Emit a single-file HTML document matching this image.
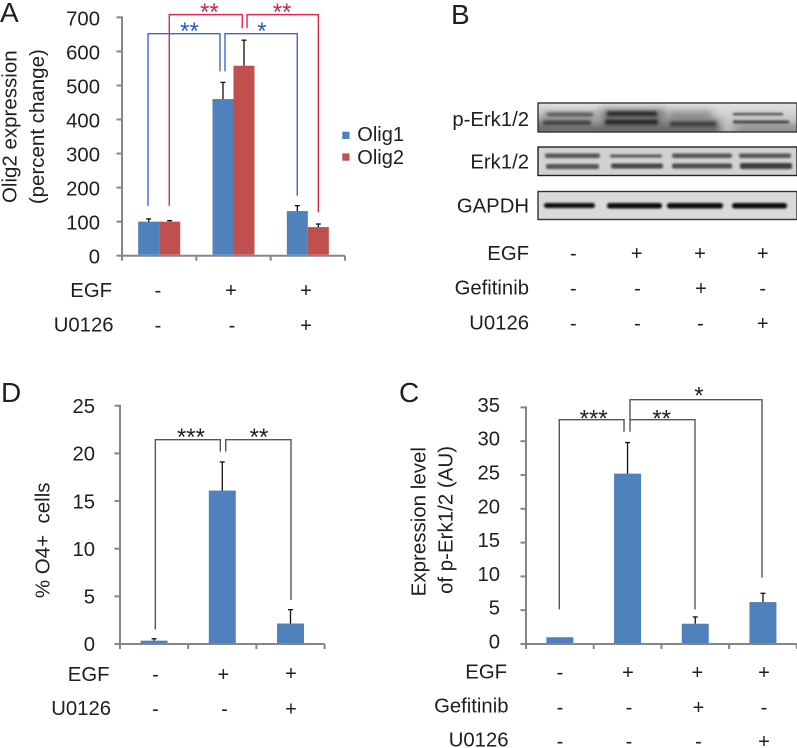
<!DOCTYPE html>
<html lang="en">
<head>
<meta charset="utf-8">
<title>EGF signalling figure</title>
<style>
html,body{margin:0;padding:0;background:#fff;}
svg{display:block;font-family:"Liberation Sans",Arial,sans-serif;fill:#1f1f1f;filter:blur(0.3px);}
.t{font-size:20px;}
.l{font-size:20.3px;}
.e{text-anchor:end;font-size:20.3px;}
.m{text-anchor:middle;font-size:20px;}
.p{font-size:28px;}
.r{text-anchor:middle;font-size:20.5px;white-space:pre;}
</style>
</head>
<body>
<svg id="fig" xmlns="http://www.w3.org/2000/svg" width="797" height="748" viewBox="0 0 797 748">
<defs>
<filter id="b1" x="-20%" y="-100%" width="140%" height="300%"><feGaussianBlur stdDeviation="1.1"/></filter>
<filter id="b2" x="-20%" y="-100%" width="140%" height="300%"><feGaussianBlur stdDeviation="1.5"/></filter>
<filter id="b3" x="-30%" y="-100%" width="160%" height="300%"><feGaussianBlur stdDeviation="4"/></filter>
<clipPath id="c1"><rect x="538" y="103" width="259" height="29"/></clipPath>
<clipPath id="c2"><rect x="538" y="147" width="259" height="28.5"/></clipPath>
<clipPath id="c3"><rect x="538" y="191.5" width="259" height="28"/></clipPath>
<linearGradient id="g1" x1="0" y1="0" x2="0" y2="1"><stop offset="0" stop-color="#e2e2e2"/><stop offset="1" stop-color="#b4b4b4"/></linearGradient>
</defs>

<text class="p" x="0" y="22">A</text>
<text class="p" x="451" y="24">B</text>
<text class="p" x="1" y="402">D</text>
<text class="p" x="399" y="402">C</text>

<text class="r" transform="translate(16.7 126.7) rotate(-90)">Olig2 expression</text>
<text class="r" transform="translate(44 126.7) rotate(-90)">(percent change)</text>
<text class="r" transform="translate(49.3 540.3) rotate(-90)" xml:space="preserve">% O4+  cells</text>
<text class="r" transform="translate(425.7 521.7) rotate(-90)">Expression level</text>
<text class="r" transform="translate(452.7 520) rotate(-90)">of p-Erk1/2 (AU)</text>

<g>
<rect x="342.3" y="131.7" width="7.2" height="7.3" fill="#4f81bd"/>
<text class="t" x="357.3" y="141">Olig1</text>
<rect x="342.3" y="153.4" width="7.2" height="7.3" fill="#c0504d"/>
<text class="t" x="357.3" y="164">Olig2</text>
</g>

<g>
<text class="e" x="112" y="297">EGF</text>
<text class="m" x="158" y="297">-</text>
<text class="m" x="231" y="297">+</text>
<text class="m" x="306" y="297">+</text>
<text class="e" x="113.5" y="331.5">U0126</text>
<text class="m" x="158" y="332">-</text>
<text class="m" x="232" y="332">-</text>
<text class="m" x="306" y="332">+</text>
</g>

<g>
<text class="e" x="529" y="126">p-Erk1/2</text>
<text class="e" x="529" y="168.3">Erk1/2</text>
<text class="e" x="529" y="212.7">GAPDH</text>
</g>

<g>
<g clip-path="url(#c1)">
<rect x="538" y="103" width="259" height="29" fill="url(#g1)"/>
<rect x="528" y="120" width="192" height="18" fill="#6a6a6a" filter="url(#b3)"/>
<rect x="600" y="109" width="66" height="14" fill="#7c7c7c" filter="url(#b3)"/>
<rect x="668" y="111" width="44" height="14" fill="#8c8c8c" filter="url(#b3)"/>
<rect x="540" y="112" width="60" height="12" fill="#a0a0a0" filter="url(#b3)"/>
<rect x="735" y="125" width="70" height="10" fill="#8a8a8a" filter="url(#b3)"/>
<g filter="url(#b2)" fill="#3a3a3a">
<rect x="547" y="113" width="46" height="3"/>
<rect x="543" y="120.5" width="48" height="4.5"/>
<rect x="607" y="111.5" width="50" height="4.5" fill="#202020"/>
<rect x="605" y="119.5" width="53" height="5" fill="#202020"/>
<rect x="670" y="121.5" width="46" height="5"/>
</g>
<g filter="url(#b1)" fill="#444">
<rect x="733" y="113" width="50" height="2.2"/>
<rect x="733" y="120.5" width="56" height="3"/>
</g>
</g>
<rect x="538" y="103" width="259" height="29" fill="none" stroke="#333" stroke-width="1.4"/>
</g>

<g>
<g clip-path="url(#c2)">
<rect x="538" y="147" width="259" height="28.5" fill="#d2d2d2"/>
<g filter="url(#b1)" fill="#545454">
<rect x="545" y="153.5" width="55" height="4.5" rx="2"/>
<rect x="546" y="164" width="53" height="5" rx="2"/>
<rect x="610" y="154.5" width="52" height="3" rx="1.5"/>
<rect x="611" y="163.5" width="52" height="5" rx="2" fill="#444"/>
<rect x="672" y="153.5" width="60" height="4.5" rx="2"/>
<rect x="672" y="163.5" width="60" height="5" rx="2" fill="#484848"/>
<rect x="739" y="153.5" width="52" height="4.5" rx="2"/>
<rect x="740" y="163" width="52" height="6" rx="2" fill="#3e3e3e"/>
</g>
</g>
<rect x="538" y="147" width="259" height="28.5" fill="none" stroke="#222" stroke-width="1.4"/>
</g>

<g>
<g clip-path="url(#c3)">
<rect x="538" y="191.5" width="259" height="28" fill="#dadada"/>
<g filter="url(#b1)" fill="#0e0e0e">
<rect x="544" y="203" width="51" height="5" rx="2.5"/>
<rect x="607" y="203" width="55" height="5.5" rx="2.5"/>
<rect x="667" y="203" width="56" height="5.5" rx="2.5"/>
<rect x="732" y="203" width="55" height="5.5" rx="2.5"/>
</g>
</g>
<rect x="538" y="191.5" width="259" height="28" fill="none" stroke="#333" stroke-width="1.4"/>
</g>

<g>
<text class="e" x="529" y="260">EGF</text>
<text class="m" x="573.3" y="260">-</text>
<text class="m" x="636.7" y="260">+</text>
<text class="m" x="700" y="260">+</text>
<text class="m" x="762.7" y="260">+</text>
<text class="e" x="529" y="294.3">Gefitinib</text>
<text class="m" x="573.3" y="295">-</text>
<text class="m" x="637.5" y="295">-</text>
<text class="m" x="701" y="295">+</text>
<text class="m" x="762.7" y="295">-</text>
<text class="e" x="529" y="329.3">U0126</text>
<text class="m" x="573.3" y="330">-</text>
<text class="m" x="637.5" y="330">-</text>
<text class="m" x="700.5" y="330">-</text>
<text class="m" x="762.7" y="330">+</text>
</g>

<g>
<text class="e" x="109.5" y="681">EGF</text>
<text class="m" x="155.5" y="681">-</text>
<text class="m" x="223.3" y="681">+</text>
<text class="m" x="291" y="680">+</text>
<text class="e" x="111" y="715">U0126</text>
<text class="m" x="155.5" y="715.5">-</text>
<text class="m" x="224.5" y="715.5">-</text>
<text class="m" x="291" y="715.5">+</text>
</g>

<g>
<text class="e" x="507" y="678.3">EGF</text>
<text class="m" x="560" y="679">-</text>
<text class="m" x="628" y="679">+</text>
<text class="m" x="697.3" y="679">+</text>
<text class="m" x="764" y="679">+</text>
<text class="e" x="508.5" y="712.3">Gefitinib</text>
<text class="m" x="560" y="714">-</text>
<text class="m" x="629" y="714">-</text>
<text class="m" x="698.5" y="714">+</text>
<text class="m" x="764" y="714">-</text>
<text class="e" x="508.5" y="746.7">U0126</text>
<text class="m" x="560" y="748">-</text>
<text class="m" x="629" y="748">-</text>
<text class="m" x="698.5" y="748">-</text>
<text class="m" x="764" y="748">+</text>
</g>
</svg>

<script>
// Panel A data
const panelACategories = ['EGF- U0126-', 'EGF+ U0126-', 'EGF+ U0126+'];
const panelAOlig1Values = [100, 460, 131];
const panelAOlig1Errors = [8, 49, 16];
const panelAOlig2Values = [100, 558, 84];
const panelAOlig2Errors = [3, 75, 9];
const panelATicks = ['0', '100', '200', '300', '400', '500', '600', '700'];
// Panel D data
const panelDCategories = ['EGF- U0126-', 'EGF+ U0126-', 'EGF+ U0126+'];
const panelDValues = [0.35, 16.1, 2.15];
const panelDErrors = [0.2, 3.0, 1.45];
const panelDTicks = ['0', '5', '10', '15', '20', '25'];
// Panel C data
const panelCCategories = ['Control', 'EGF', 'EGF+Gefitinib', 'EGF+U0126'];
const panelCValues = [1, 25.2, 3, 6.2];
const panelCErrors = [0, 4.6, 1, 1.3];
const panelCTicks = ['0', '5', '10', '15', '20', '25', '30', '35'];

const NS = 'http://www.w3.org/2000/svg';
const fig = document.getElementById('fig');

function shape(kind, attrs, name) {
  const el = document.createElementNS(NS, kind);
  for (const k in attrs) el.setAttribute(k, attrs[k]);
  
  
  fig.appendChild(el);
  return el;
}

function makeAxes(x0, y0, pxPerUnit, catWidth, cats) {
  return {
    x: u => x0 + u * catWidth,
    y: v => y0 - v * pxPerUnit,
    x0, y0, cats
  };
}

function drawAxes(ax, ticks, prefix, labelGap, labelDrop) {
  const yTop = ax.y(Number(ticks[ticks.length - 1]));
  const xEnd = ax.x(ax.cats.length);
  const axisStyle = {stroke: '#868686', 'stroke-width': 2, fill: 'none'};
  shape('line', Object.assign({x1: ax.x0, x2: ax.x0, y1: yTop - 1, y2: ax.y0 + 1}, axisStyle), prefix + '-y-axis');
  shape('line', Object.assign({x1: ax.x0, x2: xEnd, y1: ax.y0, y2: ax.y0}, axisStyle), prefix + '-x-axis');
  ticks.forEach(label => {
    const py = ax.y(Number(label));
    shape('line', Object.assign({x1: ax.x0 - 5.5, x2: ax.x0, y1: py, y2: py}, axisStyle), prefix + '-y-tick');
    const t = shape('text', {x: ax.x0 - labelGap, y: py + labelDrop, 'text-anchor': 'end', 'font-size': 20.3}, prefix + '-y-tick-label');
    t.textContent = label;
  });
  for (let i = 0; i <= ax.cats.length; i++) {
    shape('line', Object.assign({x1: ax.x(i), x2: ax.x(i), y1: ax.y0, y2: ax.y0 + 5}, axisStyle), prefix + '-x-tick');
  }
}

function drawBars(ax, values, errors, center, width, color, prefix) {
  values.forEach((v, i) => {
    const cx = center(i);
    shape('rect', {x: cx - width / 2, y: ax.y(v), width: width, height: ax.y0 - ax.y(v) - 1, fill: color}, prefix + '-bar-' + (i + 1));
    if (errors[i] > 0) {
      const top = ax.y(v + errors[i]);
      shape('line', {x1: cx, x2: cx, y1: ax.y(v), y2: top, stroke: '#111', 'stroke-width': 1.3}, prefix + '-error-bar-' + (i + 1));
      shape('line', {x1: cx - 2.5, x2: cx + 2.5, y1: top, y2: top, stroke: '#111', 'stroke-width': 1.3}, prefix + '-error-cap-' + (i + 1));
    }
  });
}

function bracket(ax, uL, uR, top, endL, endR, color, name) {
  const d = 'M' + ax.x(uL) + ' ' + ax.y(endL) + 'V' + ax.y(top) + 'H' + ax.x(uR) + 'V' + ax.y(endR);
  shape('path', {d: d, fill: 'none', stroke: color, 'stroke-width': 1.4}, name);
}

function stars(ax, u, v, label, color, name) {
  const t = shape('text', {x: ax.x(u), y: ax.y(v) + 12.5, 'text-anchor': 'middle', 'font-size': 24, fill: color}, name);
  t.textContent = label;
}

// Panel A
const axA = makeAxes(122, 255.7, 0.3405, 74.33, panelACategories);
drawAxes(axA, panelATicks, 'panel-a', 22, 8);
drawBars(axA, panelAOlig1Values, panelAOlig1Errors, i => axA.x(i + 0.5) - 10.5, 21, '#4f81bd', 'olig1');
drawBars(axA, panelAOlig2Values, panelAOlig2Errors, i => axA.x(i + 0.5) + 10.5, 21, '#c0504d', 'olig2');
const blueA = '#3e66cf', redA = '#e0294f';
bracket(axA, 0.35, 1.318, 652, 146, 541.5, blueA, 'olig1-bracket-control-egf');
bracket(axA, 1.386, 2.358, 652, 541.5, 176, blueA, 'olig1-bracket-egf-u0126');
bracket(axA, 0.636, 1.618, 708, 147, 668, redA, 'olig2-bracket-control-egf');
bracket(axA, 1.682, 2.641, 708, 668, 127.5, redA, 'olig2-bracket-egf-u0126');
stars(axA, 1.175, 729, '**', '#d62352', 'olig2-significance-control-egf');
stars(axA, 2.153, 729, '**', '#d62352', 'olig2-significance-egf-u0126');
stars(axA, 0.908, 672.5, '**', '#2f55c4', 'olig1-significance-control-egf');
stars(axA, 1.883, 672.5, '*', '#2f55c4', 'olig1-significance-egf-u0126');

// Panel D
const axD = makeAxes(120, 644, 9.53, 68.2, panelDCategories);
drawAxes(axD, panelDTicks, 'panel-d', 25, 7.2);
drawBars(axD, panelDValues, panelDErrors, i => axD.x(i + 0.5), 27, '#4f81bd', 'panel-d');
bracket(axD, 0.518, 1.471, 21.44, 1.54, 20.18, '#555', 'panel-d-bracket-control-egf');
bracket(axD, 1.55, 2.507, 21.44, 20.18, 4.62, '#555', 'panel-d-bracket-egf-u0126');
stars(axD, 1.041, 22.2, '***', '#222', 'panel-d-significance-control-egf');
stars(axD, 2.038, 22.2, '**', '#222', 'panel-d-significance-egf-u0126');

// Panel C
const axC = makeAxes(526, 644, 6.76, 67.7, panelCCategories);
drawAxes(axC, panelCTicks, 'panel-c', 26, 4.5);
drawBars(axC, panelCValues, panelCErrors, i => axC.x(i + 0.5), 27, '#4f81bd', 'panel-c');
bracket(axC, 0.492, 1.448, 33.18, 5.13, 31.4, '#555', 'panel-c-bracket-control-egf');
bracket(axC, 1.536, 2.496, 33.18, 31.4, 5.13, '#555', 'panel-c-bracket-egf-gefitinib');
bracket(axC, 1.536, 3.486, 36.14, 33.18, 9.81, '#555', 'panel-c-bracket-egf-u0126');
stars(axC, 1.0, 34.0, '***', '#222', 'panel-c-significance-control-egf');
stars(axC, 2.004, 34.0, '**', '#222', 'panel-c-significance-egf-gefitinib');
stars(axC, 2.555, 37.4, '*', '#222', 'panel-c-significance-egf-u0126');
</script>
</body>
</html>
